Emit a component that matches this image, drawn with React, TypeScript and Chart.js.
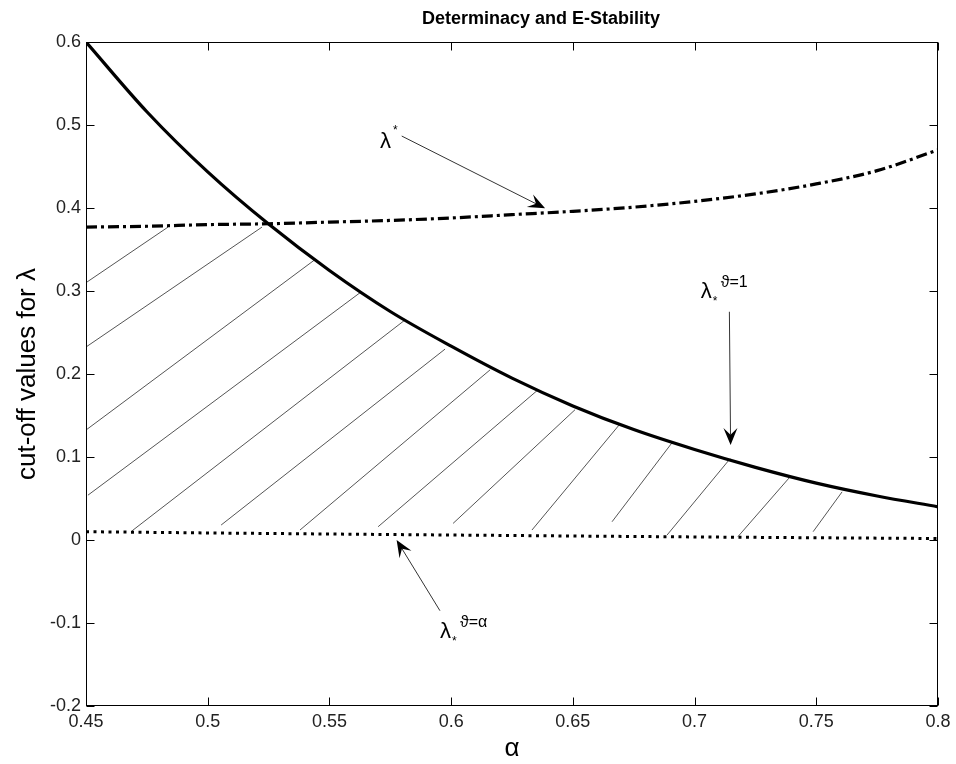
import React, { useEffect, useRef } from "react";
import { Chart, registerables } from "chart.js";

Chart.register(...registerables);

// ---- data ----
const alphaGrid = [0.45, 0.475, 0.5, 0.525, 0.55, 0.575, 0.6, 0.625, 0.65, 0.675, 0.7, 0.725, 0.75, 0.775, 0.8];
// lambda_*^{theta=1} (solid)
const lambdaTheta1 = [0.6, 0.516, 0.4435, 0.3806, 0.3247, 0.2753, 0.2335, 0.195, 0.1615, 0.133, 0.109, 0.0875, 0.0685, 0.053, 0.04];
// lambda^* (dash-dot)
const lambdaStar = [0.377, 0.378, 0.38, 0.381, 0.383, 0.385, 0.388, 0.392, 0.396, 0.401, 0.408, 0.417, 0.429, 0.445, 0.47];
// lambda_*^{theta=alpha} (dotted)
const alphaDotted = [0.45, 0.5, 0.55, 0.6, 0.65, 0.7, 0.75, 0.8];
const lambdaThetaAlpha = [0.01, 0.0085, 0.0072, 0.006, 0.0048, 0.0037, 0.0027, 0.0018];

const xTickValues = [0.45, 0.5, 0.55, 0.6, 0.65, 0.7, 0.75, 0.8];
const xTickLabels = ["0.45", "0.5", "0.55", "0.6", "0.65", "0.7", "0.75", "0.8"];
const yTickValues = [-0.2, -0.1, 0, 0.1, 0.2, 0.3, 0.4, 0.5, 0.6];
const yTickLabels = ["-0.2", "-0.1", "0", "0.1", "0.2", "0.3", "0.4", "0.5", "0.6"];

// hatch segments (data coordinates)
const hatchX0 = [0.45, 0.45, 0.45, 0.4508, 0.4689, 0.5055, 0.5379, 0.57, 0.6008, 0.6332, 0.6661, 0.6887, 0.7178, 0.7487];
const hatchY0 = [0.31, 0.2325, 0.1325, 0.054, 0.011, 0.018, 0.012, 0.016, 0.02, 0.012, 0.022, 0.006, 0.004, 0.01];
const hatchX1 = [0.4837, 0.5223, 0.5437, 0.5626, 0.581, 0.5975, 0.616, 0.6357, 0.6509, 0.6694, 0.6907, 0.7146, 0.7392, 0.7606];
const hatchY1 = [0.377, 0.377, 0.337, 0.298, 0.265, 0.23, 0.205, 0.181, 0.157, 0.14, 0.117, 0.098, 0.076, 0.058];

// annotations: arrows (data coordinates)
const arrowFromX = [0.5797, 0.7143, 0.5954];
const arrowFromY = [0.4867, 0.275, -0.0852];
const arrowToX = [0.6386, 0.7148, 0.5776];
const arrowToY = [0.3996, 0.1145, 0.0];
// labels: lambda anchor (left, baseline)
const labelX = [0.5708, 0.7025, 0.5954];
const labelY = [0.4723, 0.2916, -0.118];
const labelSub = ["", "*", "*"];
const labelSup = ["*", "\u03D1=1", "\u03D1=\u03B1"];

const TITLE = "Determinacy and E-Stability";
const FONT = "'Liberation Sans', Arial, Helvetica, sans-serif";

const overlayPlugin = {
  id: "overlay",
  afterDatasetsDraw(chart: any) {
    const { ctx, chartArea: a, scales } = chart;
    const xs = scales.x;
    const ys = scales.y;
    ctx.save();
    // frame
    ctx.strokeStyle = "#000";
    ctx.lineWidth = 1;
    const L = Math.round(a.left) + 0.5;
    const R = Math.round(a.right) - 0.5;
    const T = Math.round(a.top) + 0.5;
    const B = Math.round(a.bottom) - 0.5;
    ctx.strokeRect(L, T, R - L, B - T);
    const tl = 8;
    ctx.beginPath();
    xTickValues.forEach((v) => {
      const px = Math.round(xs.getPixelForValue(v)) + 0.5;
      ctx.moveTo(px, B);
      ctx.lineTo(px, B - tl);
      ctx.moveTo(px, T);
      ctx.lineTo(px, T + tl);
    });
    yTickValues.forEach((v) => {
      const py = Math.round(ys.getPixelForValue(v)) + 0.5;
      ctx.moveTo(L, py);
      ctx.lineTo(L + tl, py);
      ctx.moveTo(R, py);
      ctx.lineTo(R - tl, py);
    });
    ctx.stroke();

    // arrows
    for (let i = 0; i < arrowFromX.length; i++) {
      const x0 = xs.getPixelForValue(arrowFromX[i]);
      const y0 = ys.getPixelForValue(arrowFromY[i]);
      const x1 = xs.getPixelForValue(arrowToX[i]);
      const y1 = ys.getPixelForValue(arrowToY[i]);
      const ang = Math.atan2(y1 - y0, x1 - x0);
      const hl = 17;
      const hw = 7;
      const ca = Math.cos(ang);
      const sa = Math.sin(ang);
      ctx.strokeStyle = "#333";
      ctx.lineWidth = 1;
      ctx.beginPath();
      ctx.moveTo(x0, y0);
      ctx.lineTo(x1 - ca * hl * 0.6, y1 - sa * hl * 0.6);
      ctx.stroke();
      ctx.fillStyle = "#000";
      ctx.beginPath();
      ctx.moveTo(x1, y1);
      ctx.lineTo(x1 - ca * hl - sa * hw, y1 - sa * hl + ca * hw);
      ctx.lineTo(x1 - ca * hl * 0.6, y1 - sa * hl * 0.6);
      ctx.lineTo(x1 - ca * hl + sa * hw, y1 - sa * hl - ca * hw);
      ctx.closePath();
      ctx.fill();
    }

    // labels
    ctx.fillStyle = "#000";
    ctx.textBaseline = "alphabetic";
    ctx.textAlign = "left";
    for (let i = 0; i < labelX.length; i++) {
      const lx = xs.getPixelForValue(labelX[i]);
      const ly = ys.getPixelForValue(labelY[i]);
      ctx.font = `22px ${FONT}`;
      ctx.fillText("\u03BB", lx, ly);
      const lw = ctx.measureText("\u03BB").width;
      if (labelSub[i]) {
        ctx.font = `12px ${FONT}`;
        ctx.fillText(labelSub[i], lx + lw + 1, ly + 7);
        ctx.font = `16px ${FONT}`;
        ctx.fillText(labelSup[i], lx + lw + 9, ly - 11);
      } else {
        ctx.font = `12px ${FONT}`;
        ctx.fillText(labelSup[i], lx + lw + 2, ly - 14);
      }
    }

    // title
    ctx.font = `bold 18px ${FONT}`;
    ctx.textAlign = "center";
    ctx.textBaseline = "middle";
    ctx.fillText(TITLE, 541, 19);
    ctx.restore();
  },
};

export default function App() {
  const ref = useRef<HTMLCanvasElement | null>(null);

  useEffect(() => {
    if (!ref.current) return;
    const pts = (xa: number[], ya: number[]) => xa.map((x, i) => ({ x, y: ya[i] }));
    const hatchSets = hatchX0.map((_, i) => ({
      data: [
        { x: hatchX0[i], y: hatchY0[i] },
        { x: hatchX1[i], y: hatchY1[i] },
      ],
      borderColor: "#555",
      borderWidth: 1,
      pointRadius: 0,
      showLine: true,
      order: 10,
    }));
    const chart = new Chart(ref.current, {
      type: "scatter",
      data: {
        datasets: [
          {
            label: "lambda_theta1",
            data: pts(alphaGrid, lambdaTheta1),
            borderColor: "#000",
            borderWidth: 3.2,
            pointRadius: 0,
            showLine: true,
            cubicInterpolationMode: "monotone",
            order: 1,
          },
          {
            label: "lambda_star",
            data: pts(alphaGrid, lambdaStar),
            borderColor: "#000",
            borderWidth: 3.2,
            borderDash: [11, 4, 3, 4],
            pointRadius: 0,
            showLine: true,
            cubicInterpolationMode: "monotone",
            order: 2,
          },
          {
            label: "lambda_theta_alpha",
            data: pts(alphaDotted, lambdaThetaAlpha),
            borderColor: "#000",
            borderWidth: 3,
            borderDash: [3, 4.5],
            pointRadius: 0,
            showLine: true,
            order: 3,
          },
          ...hatchSets,
        ] as any,
      },
      options: {
        animation: false,
        responsive: false,
        devicePixelRatio: 1,
        layout: { padding: { top: 42, right: 18, bottom: 0, left: 0 } },
        plugins: {
          legend: { display: false },
          tooltip: { enabled: false },
          title: { display: false },
        },
        scales: {
          x: {
            type: "linear",
            min: 0.45,
            max: 0.8,
            grid: { display: false, drawTicks: false },
            border: { display: false },
            afterBuildTicks: (s: any) => {
              s.ticks = xTickValues.map((v) => ({ value: v }));
            },
            afterFit: (s: any) => {
              s.height = 58;
            },
            ticks: {
              autoSkip: false,
              maxRotation: 0,
              padding: 5,
              color: "#222",
              font: { family: FONT, size: 18 },
              callback: (_v: any, i: number) => xTickLabels[i],
            },
            title: {
              display: true,
              text: "\u03B1",
              color: "#000",
              font: { family: FONT, size: 26 },
              padding: { top: 0, bottom: 0 },
            },
          },
          y: {
            type: "linear",
            min: -0.2,
            max: 0.6,
            grid: { display: false, drawTicks: false },
            border: { display: false },
            afterBuildTicks: (s: any) => {
              s.ticks = yTickValues.map((v) => ({ value: v }));
            },
            afterFit: (s: any) => {
              s.width = 86;
            },
            ticks: {
              autoSkip: false,
              padding: 5,
              color: "#222",
              font: { family: FONT, size: 18 },
              callback: (_v: any, i: number) => yTickLabels[i],
            },
            title: {
              display: true,
              text: "cut-off values for \u03BB",
              color: "#000",
              font: { family: FONT, size: 26 },
              padding: { top: 12, bottom: 0 },
            },
          },
        },
      } as any,
      plugins: [overlayPlugin],
    });
    return () => chart.destroy();
  }, []);

  return (
    <div style={{ position: "absolute", left: 0, top: 0, width: 956, height: 764, background: "#fff" }}>
      <canvas ref={ref} width={956} height={764} style={{ display: "block" }} />
    </div>
  );
}
